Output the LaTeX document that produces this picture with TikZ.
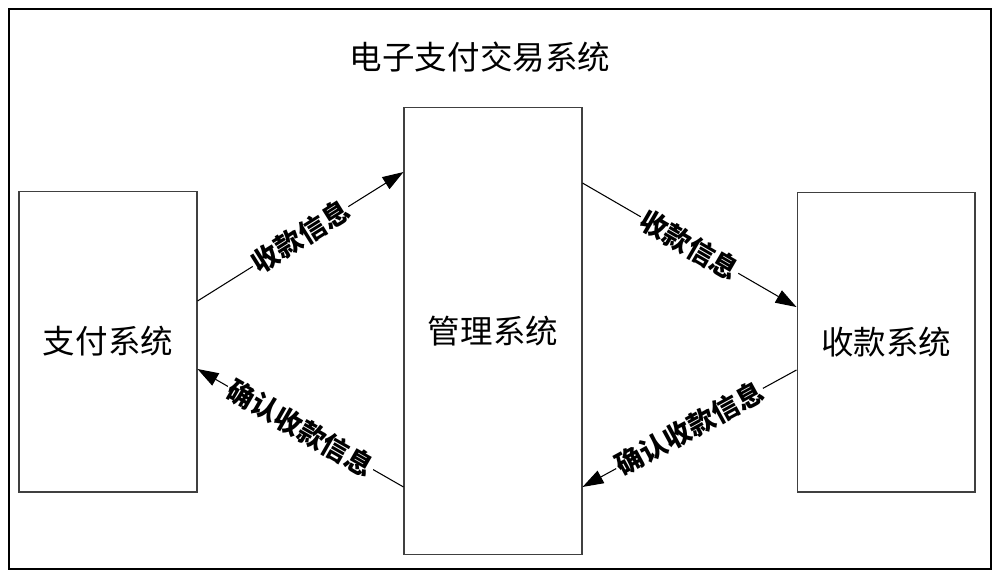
\documentclass[tikz,border=0pt]{standalone}
\usepackage{fontspec}
\setmainfont{Noto Sans CJK SC}
\usetikzlibrary{arrows.meta}

\begin{document}
\begin{tikzpicture}[x=0.02cm, y=-0.02cm,
    sys/.style={draw=black!75, line width=0.6pt, minimum width=3.56cm, font=\fontsize{18.5}{22}\selectfont},
    msg/.style={-{Triangle[length=0.42cm,width=0.28cm]}, line width=0.6pt},
    lbl/.style={sloped, midway, fill=white, inner sep=1pt, font=\fontsize{15.5}{18}\selectfont\bfseries}]
    \useasboundingbox (0,0) rectangle (1000,579);
    \node[draw, line width=1.2pt, minimum width=19.64cm, minimum height=11.2cm] (frame) at (500,289) {};
    \node[font=\fontsize{18.5}{22}\selectfont] (title) at (480,57) {电子支付交易系统};
    \node[sys, minimum height=6.02cm] (pay) at (108,341.5) {支付系统};
    \node[sys, minimum height=8.96cm] (mgr) at (493,331) {管理系统};
    \node[sys, minimum height=6cm] (recv) at (886,342) {收款系统};
    \draw[msg] ([yshift=0.81cm]pay.east) -- node[lbl] {收款信息} ([yshift=3.18cm]mgr.west);
    \draw[msg] ([yshift=-3.12cm]mgr.west) -- node[lbl] {确认收款信息} ([yshift=-0.55cm]pay.east);
    \draw[msg] ([yshift=2.96cm]mgr.east) -- node[lbl] {收款信息} ([yshift=0.7cm]recv.west);
    \draw[msg] ([yshift=-0.56cm]recv.west) -- node[lbl] {确认收款信息} ([yshift=-3.12cm]mgr.east);
\end{tikzpicture}
\end{document}
